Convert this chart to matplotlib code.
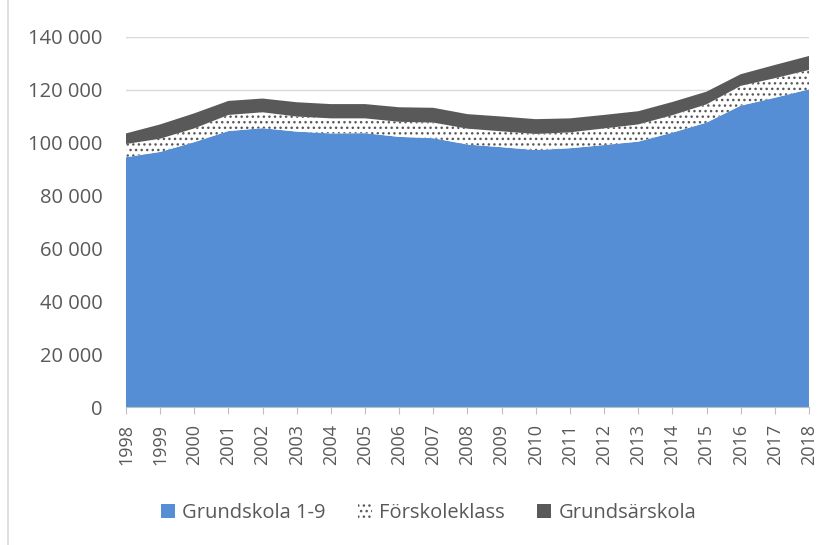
import matplotlib

matplotlib.use("Agg")
import matplotlib.pyplot as plt
import numpy as np
from matplotlib.lines import Line2D
from matplotlib.patches import Patch
from matplotlib.ticker import FuncFormatter

years = list(range(1998, 2019))
grundskola = [94500, 96500, 100200, 104400, 105500, 104200, 103500, 103600, 102200, 101700,
              99300, 98300, 97200, 97900, 99100, 100400, 103800, 107600, 114000, 117000, 120200]
forskoleklass = [5000, 5000, 5200, 6100, 6000, 5700, 5700, 5600, 5700, 5900,
                 6000, 6000, 6100, 6000, 6300, 6500, 6600, 6900, 7500, 7400, 7300]
grundsarskola = [4000, 5400, 5700, 5300, 5200, 5400, 5400, 5400, 5500, 5600,
                 5500, 5600, 5600, 5300, 5100, 5000, 5000, 4800, 4400, 5000, 5300]
labels = ["Grundskola 1-9", "Förskoleklass", "Grundsärskola"]

BLUE = "#558ed5"
DARK = "#595959"
TEXT = "#595959"
GRID = "#d9d9d9"

plt.rcParams["font.family"] = ["Open Sans", "DejaVu Sans"]
plt.rcParams["hatch.color"] = DARK
plt.rcParams["hatch.linewidth"] = 1.0

fig = plt.figure(figsize=(8.34, 5.45), dpi=100)
ax = fig.add_axes([0.151, 0.2532, 0.819, 0.679])

x = np.array(years)
g = np.array(grundskola)
f = g + np.array(forskoleklass)
s = f + np.array(grundsarskola)

ax.fill_between(x, 0, g, facecolor=BLUE, linewidth=0, zorder=2)
ax.fill_between(x, g, f, facecolor="white", hatch="...", edgecolor=DARK, linewidth=0, zorder=2)
ax.fill_between(x, f, s, facecolor=DARK, linewidth=0, zorder=2)

ax.set_xlim(1998, 2018)
ax.set_ylim(0, 140000)
ax.set_yticks(range(0, 140001, 20000))
ax.yaxis.set_major_formatter(FuncFormatter(lambda v, _: f"{int(v):,}".replace(",", " ")))
ax.set_xticks(years)
ax.set_xticklabels([str(y) for y in years], rotation=90)

ax.grid(axis="y", color=GRID, linewidth=1, zorder=0)
for side in ["top", "right", "left"]:
    ax.spines[side].set_visible(False)
ax.spines["bottom"].set_color("#bfbfbf")
ax.spines["bottom"].set_zorder(3)
ax.tick_params(axis="y", length=0, colors=TEXT, labelsize=14.5, pad=17)
ax.tick_params(axis="x", length=5, colors=TEXT, labelsize=13, pad=7)
ax.tick_params(axis="x", color="#bfbfbf")

handles = [
    Patch(facecolor=BLUE, edgecolor="none"),
    Patch(facecolor="white", hatch="...", edgecolor=DARK, linewidth=0),
    Patch(facecolor=DARK, edgecolor="none"),
]
leg = fig.legend(handles, labels, loc="center", bbox_to_anchor=(0.514, 0.059), ncol=3,
                 frameon=False, fontsize=14.5, handlelength=0.7, handleheight=0.7,
                 handletextpad=0.35, columnspacing=1.6)
for t in leg.get_texts():
    t.set_color(TEXT)

# left edge of the chart frame
fig.add_artist(Line2D([0.0096, 0.0096], [0, 1], transform=fig.transFigure,
                      color=GRID, linewidth=1.2))

fig.savefig("out.png", dpi=100)
